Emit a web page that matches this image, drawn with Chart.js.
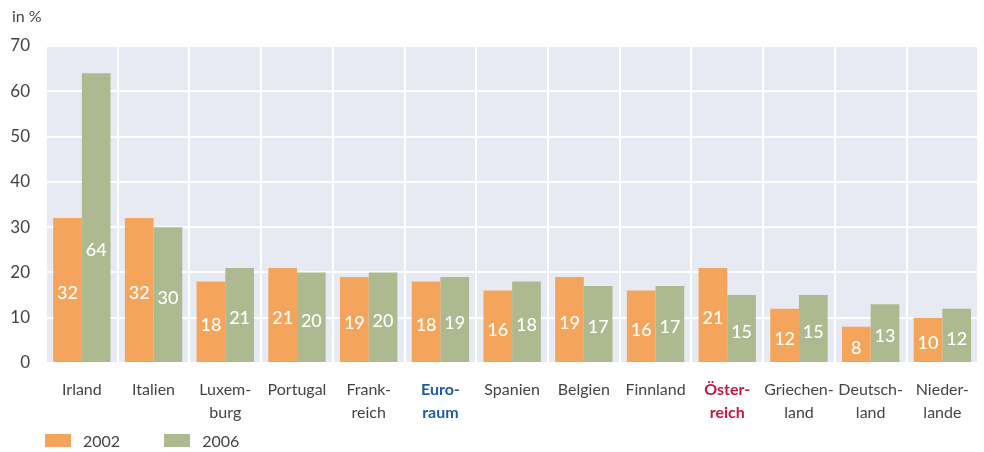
<!DOCTYPE html>
<html>
<head>
<meta charset="utf-8">
<script src="https://cdn.jsdelivr.net/npm/chart.js@4/dist/chart.umd.min.js"></script>
<style>
  html, body { margin: 0; padding: 0; background: #fff; }
  #wrap { position: relative; width: 984px; height: 452px; font-family: Lato, "Open Sans", sans-serif; color: #444; }
  #unit { position: absolute; left: 12px; top: 6px; font-size: 16px; }
  #legend { position: absolute; left: 45px; top: 431px; font-size: 16px; display: flex; }
  #legend .item { display: flex; align-items: center; margin-right: 44px; }
  #legend .box { width: 26px; height: 13px; margin-right: 12px; }
</style>
</head>
<body>
<div id="wrap">
  <canvas id="chart" width="984" height="452"></canvas>
  <div id="unit">in %</div>
  <div id="legend"></div>
</div>
<script>
var countries = [['Irland'], ['Italien'], ['Luxem-', 'burg'], ['Portugal'], ['Frank-', 'reich'],
    ['Euro-', 'raum'], ['Spanien'], ['Belgien'], ['Finnland'], ['Öster-', 'reich'],
    ['Griechen-', 'land'], ['Deutsch-', 'land'], ['Nieder-', 'lande']];
var values2002 = [32, 32, 18, 21, 19, 18, 16, 19, 16, 21, 12, 8, 10];
var values2006 = [64, 30, 21, 20, 20, 19, 18, 17, 17, 15, 15, 13, 12];
var seriesNames = ['2002', '2006'];
var yTicks = [0, 10, 20, 30, 40, 50, 60, 70];

var colors = ['#f5a55b', '#adb98f'];
var highlight = { 5: '#1f5c9c', 9: '#c41840' };

// light plot background
var plotBg = {
    id: 'plotBg',
    beforeDraw: function(chart) {
        var a = chart.chartArea, c = chart.ctx;
        c.save();
        c.fillStyle = '#e8eaf3';
        c.fillRect(a.left, a.top, a.right - a.left, a.bottom - a.top);
        c.restore();
    }
};

// white value labels inside the bars
var barLabels = {
    id: 'barLabels',
    afterDatasetsDraw: function(chart) {
        var c = chart.ctx, y = chart.scales.y;
        c.save();
        c.fillStyle = '#fff';
        c.font = '500 18px Lato, "Open Sans", sans-serif';
        c.textAlign = 'center';
        c.textBaseline = 'middle';
        chart.data.datasets.forEach(function(ds, i) {
            chart.getDatasetMeta(i).data.forEach(function(bar, j) {
                var v = ds.data[j];
                c.fillText(v, bar.x, y.getPixelForValue(Math.min(v / 2, 25.5)) + 3);
            });
        });
        c.restore();
    }
};

var ctx = document.getElementById('chart').getContext('2d');
var chart = new Chart(ctx, {
    type: 'bar',
    data: {
        labels: countries,
        datasets: [{
            label: seriesNames[0],
            data: values2002,
            backgroundColor: colors[0]
        }, {
            label: seriesNames[1],
            data: values2006,
            backgroundColor: colors[1]
        }]
    },
    options: {
        responsive: false,
        animation: false,
        layout: { padding: { top: 46, right: 0, left: 0, bottom: 0 } },
        categoryPercentage: 0.8,
        barPercentage: 1.0,
        plugins: {
            legend: { display: false },
            tooltip: { enabled: false }
        },
        scales: {
            x: {
                grid: { color: '#fff', lineWidth: 2, drawTicks: false, offset: true },
                border: { display: false },
                afterFit: function(s) { s.height = 89; },
                ticks: {
                    padding: 15,
                    autoSkip: false,
                    maxRotation: 0,
                    color: function(c) { return highlight[c.index] || '#444'; },
                    font: function(c) {
                        return {
                            family: 'Lato, "Open Sans", sans-serif',
                            size: 16,
                            weight: highlight[c.index] ? 'bold' : 'normal',
                            lineHeight: 1.45
                        };
                    }
                }
            },
            y: {
                min: 0,
                max: 70,
                afterFit: function(s) { s.width = 46; },
                afterBuildTicks: function(s) { s.ticks = yTicks.map(function(v) { return { value: v }; }); },
                grid: { color: '#fff', lineWidth: 2, drawTicks: false },
                border: { display: false },
                ticks: {
                    padding: 16,
                    color: '#444',
                    font: { family: 'Lato, "Open Sans", sans-serif', size: 17 }
                }
            }
        }
    },
    plugins: [plotBg, barLabels]
});

var legend = document.getElementById('legend');
chart.data.datasets.forEach(function(ds) {
    var item = document.createElement('div');
    item.className = 'item';
    item.innerHTML = '<span class="box" style="background:' + ds.backgroundColor + '"></span>' + ds.label;
    legend.appendChild(item);
});
</script>
</body>
</html>
